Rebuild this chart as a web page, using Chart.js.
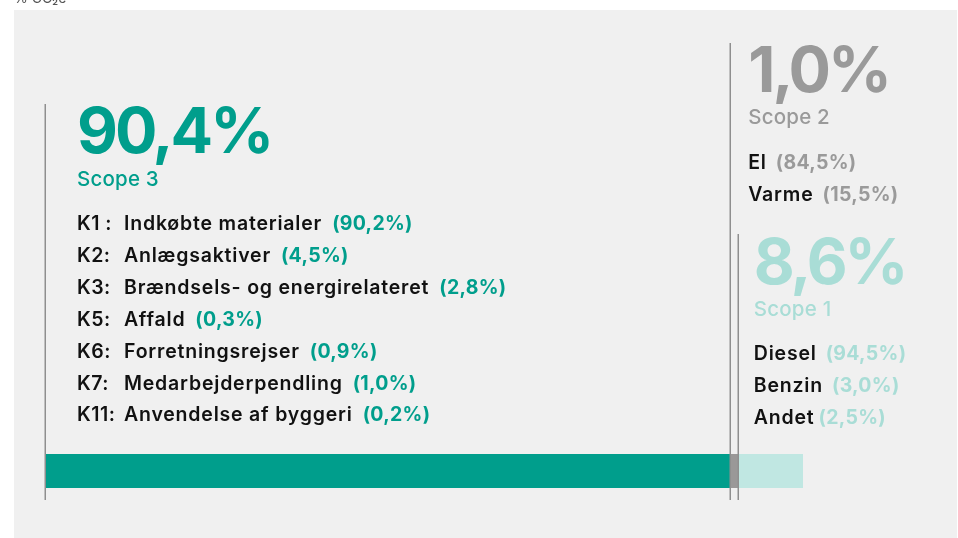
<!DOCTYPE html>
<html>
<head>
<meta charset="utf-8">
<script src="https://cdn.jsdelivr.net/npm/chart.js@4"></script>
<style>
html,body{margin:0;padding:0;background:#fff;}
#wrap{width:958px;height:538px;position:relative;}
</style>
</head>
<body>
<div id="wrap"><canvas id="c" width="958" height="538"></canvas></div>
<script>
// ---- data ----
const scopes = ['Scope 3', 'Scope 2', 'Scope 1'];
const scopeValues = [90.4, 1.0, 8.6];
const scopeLabels = ['90,4%', '1,0%', '8,6%'];
const scopeColors = ['#009e8c', '#9a9898', '#c0e7e2'];
const scopeTextColors = ['#009e8c', '#9a9a9a', '#a9ddd6'];

const scope3Codes = ['K1 :', 'K2:', 'K3:', 'K5:', 'K6:', 'K7:', 'K11:'];
const scope3Names = ['Indkøbte materialer', 'Anlægsaktiver', 'Brændsels- og energirelateret', 'Affald', 'Forretningsrejser', 'Medarbejderpendling', 'Anvendelse af byggeri'];
const scope3Shares = ['(90,2%)', '(4,5%)', '(2,8%)', '(0,3%)', '(0,9%)', '(1,0%)', '(0,2%)'];

const scope2Names = ['El', 'Varme'];
const scope2Shares = ['(84,5%)', '(15,5%)'];

const scope1Names = ['Diesel', 'Benzin', 'Andet'];
const scope1Shares = ['(94,5%)', '(3,0%)', '(2,5%)'];

const unitLabel = '% CO₂e';

const FONT = 'Inter, "Noto Sans", sans-serif';

const annot = {
  id: 'annot',
  beforeDraw(chart) {
    const ctx = chart.ctx;
    ctx.save();
    ctx.fillStyle = '#f0f0f0';
    ctx.fillRect(14, 10, 943, 528);
    ctx.fillStyle = '#555';
    ctx.font = '14px ' + FONT;
    ctx.textBaseline = 'alphabetic';
    ctx.fillText(unitLabel, 14, 3);
    ctx.restore();
  },
  afterDraw(chart) {
    const ctx = chart.ctx;
    const xs = chart.scales.x;
    let cum = 0;
    const starts = scopeValues.map(v => { const s = cum; cum += v; return xs.getPixelForValue(s); });
    const lineTops = [104, 43, 234];
    const lineBottom = 500;
    ctx.save();
    ctx.strokeStyle = '#8f8f8f';
    ctx.lineWidth = 1.5;
    starts.forEach((x, i) => {
      const px = Math.round(x) + 0.25;
      ctx.beginPath();
      ctx.moveTo(px, lineTops[i]);
      ctx.lineTo(px, lineBottom);
      ctx.stroke();
    });
    ctx.textBaseline = 'alphabetic';
    ctx.textAlign = 'left';

    function bigNum(txt, x, y, color) {
      ctx.fillStyle = color;
      ctx.font = '700 63px ' + FONT;
      ctx.letterSpacing = '-3px';
      ctx.fillText(txt, x, y);
      ctx.letterSpacing = '0px';
    }
    function sub(txt, x, y, color) {
      ctx.fillStyle = color;
      ctx.font = '500 20.5px ' + FONT;
      ctx.letterSpacing = '0.2px';
      ctx.fillText(txt, x, y);
      ctx.letterSpacing = '0px';
    }
    function item(name, share, x, y, shareColor, gap) {
      ctx.fillStyle = '#111';
      ctx.font = '600 19.5px ' + FONT;
      ctx.letterSpacing = '0.8px';
      ctx.fillText(name, x, y);
      const w = ctx.measureText(name).width;
      ctx.fillStyle = shareColor;
      ctx.font = '700 19.5px ' + FONT;
      ctx.letterSpacing = '0.3px';
      ctx.fillText(share, x + w + gap, y);
      ctx.letterSpacing = '0px';
    }

    // Scope 3
    const x3 = starts[0] + 32;
    bigNum(scopeLabels[0], x3, 153, scopeTextColors[0]);
    sub(scopes[0], x3, 186, scopeTextColors[0]);
    const rowY3 = [230, 262, 294, 326, 358, 390, 421];
    scope3Codes.forEach((c, i) => {
      ctx.fillStyle = '#111';
      ctx.font = '600 19.5px ' + FONT;
      ctx.letterSpacing = '0.5px';
      ctx.fillText(c, x3, rowY3[i]);
      ctx.letterSpacing = '0px';
      item(scope3Names[i], scope3Shares[i], x3 + 47, rowY3[i], scopeTextColors[0], 10);
    });

    // Scope 2
    const x2 = starts[1] + 18;
    bigNum(scopeLabels[1], x2, 92, scopeTextColors[1]);
    sub(scopes[1], x2, 124, scopeTextColors[1]);
    const rowY2 = [169, 201];
    scope2Names.forEach((n, i) => item(n, scope2Shares[i], x2, rowY2[i], scopeTextColors[1], 9));

    // Scope 1
    const x1 = starts[2] + 16;
    bigNum(scopeLabels[2], x1, 284, scopeTextColors[2]);
    sub(scopes[2], x1, 316, scopeTextColors[2]);
    const rowY1 = [360, 392, 424];
    scope1Names.forEach((n, i) => item(n, scope1Shares[i], x1, rowY1[i], scopeTextColors[2], i === 2 ? 4 : 9));
    ctx.restore();
  }
};

new Chart(document.getElementById('c'), {
  type: 'bar',
  data: {
    labels: ['Total'],
    datasets: scopes.map((s, i) => ({
      label: s,
      data: [scopeValues[i]],
      backgroundColor: scopeColors[i],
      borderWidth: 0,
      barPercentage: 1,
      categoryPercentage: 1
    }))
  },
  options: {
    indexAxis: 'y',
    responsive: false,
    animation: false,
    layout: { padding: { left: 45, right: 155, top: 454, bottom: 50 } },
    plugins: { legend: { display: false }, tooltip: { enabled: false } },
    scales: {
      x: { stacked: true, min: 0, max: 100, display: false },
      y: { stacked: true, display: false }
    }
  },
  plugins: [annot]
});
</script>
</body>
</html>
